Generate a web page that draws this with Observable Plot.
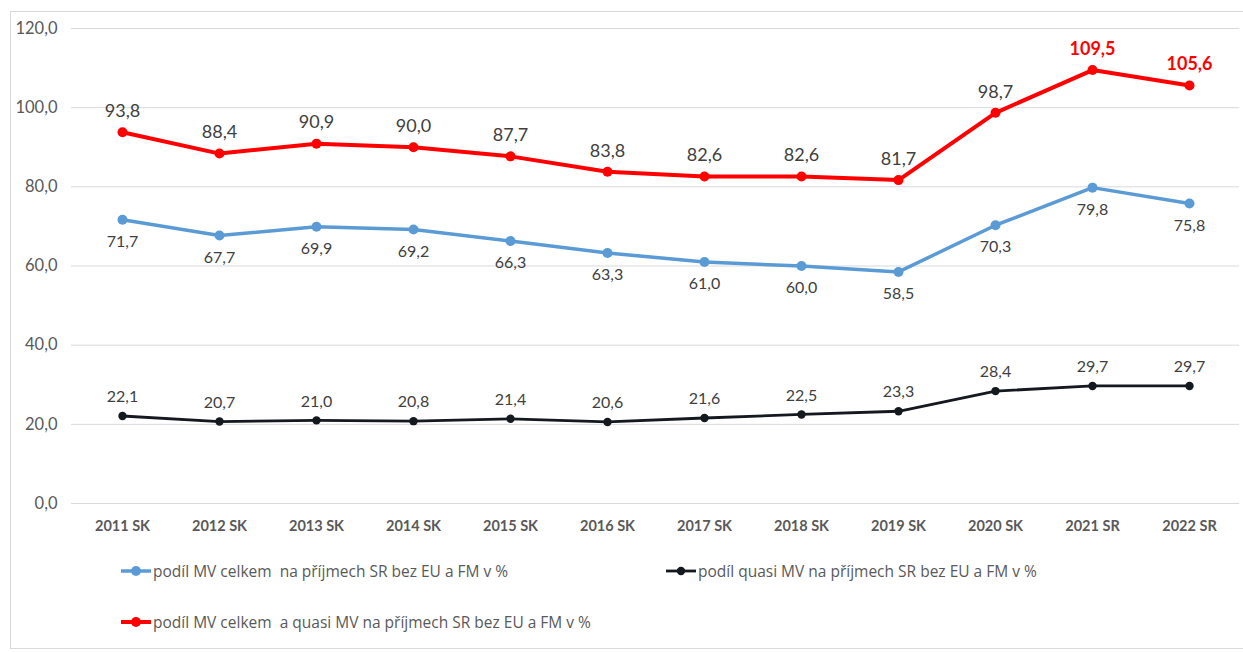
<!DOCTYPE html>
<html>
<head>
<meta charset="utf-8">
<script src="https://cdn.jsdelivr.net/npm/d3@7"></script>
<script src="https://cdn.jsdelivr.net/npm/@observablehq/plot@0.6"></script>
<style>
  html, body { margin: 0; padding: 0; background: #fff; }
  #wrap { position: relative; width: 1243px; height: 652px; font-family: Lato, "Open Sans", sans-serif; }
  #frame { position: absolute; left: 10px; top: 11px; width: 1240px; height: 638px; border: 1px solid #d9d9d9; box-sizing: border-box; }
  #chart { position: absolute; left: 0; top: 0; }
  .leg { position: absolute; display: flex; align-items: center; font-family: "Open Sans", sans-serif; font-size: 15.5px; color: #595959; white-space: pre; }
  .leg svg { margin-right: 1px; }
</style>
</head>
<body>
<div id="wrap">
  <div id="frame"></div>
  <div id="chart"></div>
</div>
<script>
const categories = ["2011 SK","2012 SK","2013 SK","2014 SK","2015 SK","2016 SK","2017 SK","2018 SK","2019 SK","2020 SK","2021 SR","2022 SR"];
const seriesBlue  = [71.7, 67.7, 69.9, 69.2, 66.3, 63.3, 61.0, 60.0, 58.5, 70.3, 79.8, 75.8];
const seriesBlack = [22.1, 20.7, 21.0, 20.8, 21.4, 20.6, 21.6, 22.5, 23.3, 28.4, 29.7, 29.7];
const seriesRed   = [93.8, 88.4, 90.9, 90.0, 87.7, 83.8, 82.6, 82.6, 81.7, 98.7, 109.5, 105.6];
const yTicks = [0, 20, 40, 60, 80, 100, 120];
const seriesNames = [
  "podíl MV celkem  na příjmech SR bez EU a FM v %",
  "podíl quasi MV na příjmech SR bez EU a FM v %",
  "podíl MV celkem  a quasi MV na příjmech SR bez EU a FM v %"
];
const highlightRed = ["2021 SR", "2022 SR"];

const fmt = v => d3.format(".1f")(v).replace(".", ",");
const toRows = arr => categories.map((c, i) => ({cat: c, v: arr[i]}));
const blue = toRows(seriesBlue), black = toRows(seriesBlack), red = toRows(seriesRed);
const redNormal = red.filter(d => !highlightRed.includes(d.cat));
const redHi = red.filter(d => highlightRed.includes(d.cat));

const BLUE = "#5b9bd5", RED = "#ff0000", BLACK = "#14181f";

const plot = Plot.plot({
  width: 1243,
  height: 540,
  marginLeft: 71,
  marginRight: 4,
  marginTop: 28,
  marginBottom: 37,
  style: {fontFamily: "Lato, 'Open Sans', sans-serif", background: "transparent", overflow: "visible"},
  x: {type: "point", domain: categories, padding: 0.5, label: null},
  y: {domain: [0, 120], label: null},
  marks: [
    Plot.ruleY(yTicks, {stroke: "#d9d9d9", strokeWidth: 1}),
    Plot.axisY({ticks: yTicks, tickSize: 0, tickPadding: 14, tickFormat: fmt, fontSize: 16.5, fill: "#595959", label: null}),
    Plot.axisX({tickSize: 0, tickPadding: 17, fontSize: 14.5, fontWeight: "bold", fill: "#595959", label: null}),
    Plot.line(black, {x: "cat", y: "v", stroke: BLACK, strokeWidth: 2.8}),
    Plot.dot(black, {x: "cat", y: "v", fill: BLACK, r: 4.2}),
    Plot.line(blue, {x: "cat", y: "v", stroke: BLUE, strokeWidth: 3.5}),
    Plot.dot(blue, {x: "cat", y: "v", fill: BLUE, r: 5}),
    Plot.line(red, {x: "cat", y: "v", stroke: RED, strokeWidth: 4}),
    Plot.dot(red, {x: "cat", y: "v", fill: RED, r: 5}),
    Plot.text(black, {x: "cat", y: "v", text: d => fmt(d.v), dy: -19, fontSize: 16, fill: "#404040"}),
    Plot.text(blue, {x: "cat", y: "v", text: d => fmt(d.v), dy: 22, fontSize: 16, fill: "#404040"}),
    Plot.text(redNormal, {x: "cat", y: "v", text: d => fmt(d.v), dy: -21, fontSize: 18, fill: "#404040"}),
    Plot.text(redHi, {x: "cat", y: "v", text: d => fmt(d.v), dy: -21, fontSize: 18, fontWeight: "bold", fill: RED})
  ]
});
document.getElementById("chart").appendChild(plot);

// legend
const wrap = document.getElementById("wrap");
const legendItems = [
  {name: seriesNames[0], color: BLUE, w: 3.5, r: 5, left: 120, top: 571},
  {name: seriesNames[1], color: BLACK, w: 2.8, r: 4.2, left: 665, top: 571},
  {name: seriesNames[2], color: RED, w: 4, r: 5, left: 120, top: 622}
];
legendItems.forEach(it => {
  const div = document.createElement("div");
  div.className = "leg";
  div.style.left = it.left + "px";
  div.style.top = (it.top - 11) + "px";
  div.style.height = "22px";
  const ns = "http://www.w3.org/2000/svg";
  const s = document.createElementNS(ns, "svg");
  s.setAttribute("width", 32); s.setAttribute("height", 14);
  const l = document.createElementNS(ns, "line");
  l.setAttribute("x1", 1); l.setAttribute("x2", 31); l.setAttribute("y1", 7); l.setAttribute("y2", 7);
  l.setAttribute("stroke", it.color); l.setAttribute("stroke-width", it.w);
  const c = document.createElementNS(ns, "circle");
  c.setAttribute("cx", 16); c.setAttribute("cy", 7); c.setAttribute("r", it.r); c.setAttribute("fill", it.color);
  s.appendChild(l); s.appendChild(c);
  div.appendChild(s);
  const t = document.createElement("span");
  t.textContent = it.name;
  div.appendChild(t);
  wrap.appendChild(div);
});
</script>
</body>
</html>
